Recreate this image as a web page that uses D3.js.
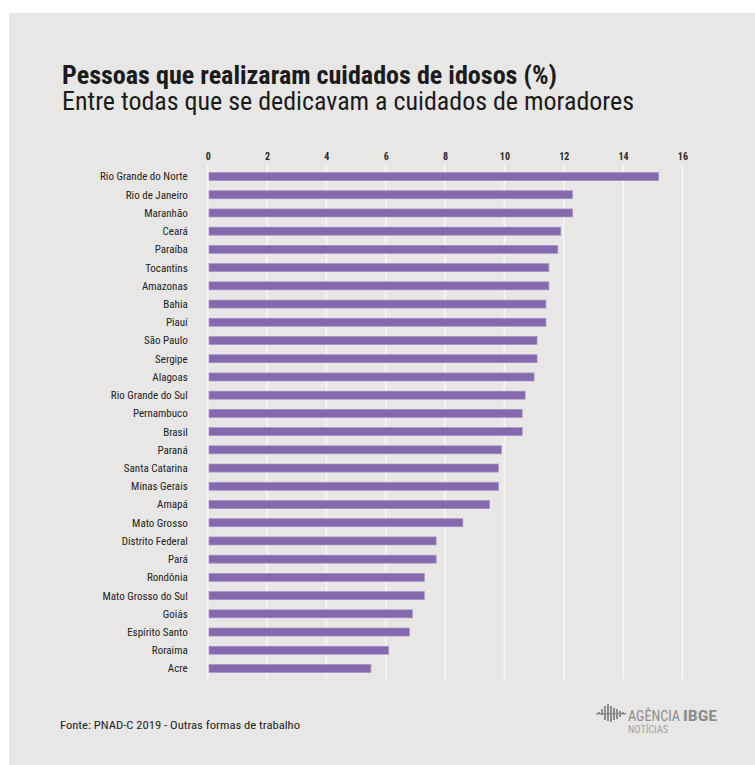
<!DOCTYPE html>
<html>
<head>
<meta charset="utf-8">
<script src="https://cdn.jsdelivr.net/npm/d3@7"></script>
<style>
  html, body { margin: 0; padding: 0; background: #ffffff; }
  svg { display: block; }
  .cond { font-family: "Liberation Sans Narrow", "Arial Narrow", "Roboto Condensed", "DejaVu Sans Condensed", "Liberation Sans", sans-serif; }
</style>
</head>
<body>
<svg id="chart" width="755" height="765"></svg>
<script>
const categories = ["Rio Grande do Norte","Rio de Janeiro","Maranhão","Ceará","Paraíba","Tocantins","Amazonas","Bahia","Piauí","São Paulo","Sergipe","Alagoas","Rio Grande do Sul","Pernambuco","Brasil","Paraná","Santa Catarina","Minas Gerais","Amapá","Mato Grosso","Distrito Federal","Pará","Rondônia","Mato Grosso do Sul","Goiás","Espírito Santo","Roraima","Acre"];
const values = [15.2,12.3,12.3,11.9,11.8,11.5,11.5,11.4,11.4,11.1,11.1,11.0,10.7,10.6,10.6,9.9,9.8,9.8,9.5,8.6,7.7,7.7,7.3,7.3,6.9,6.8,6.1,5.5];
const tickValues = [0,2,4,6,8,10,12,14,16];
const titleText = "Pessoas que realizaram cuidados de idosos (%)";
const subtitleText = "Entre todas que se dedicavam a cuidados de moradores";
const sourceText = "Fonte: PNAD-C 2019 - Outras formas de trabalho";

const svg = d3.select("#chart");
const FONT = '"Liberation Sans Narrow", "Arial Narrow", "Roboto Condensed", "DejaVu Sans Condensed", "Liberation Sans", sans-serif';

// panel
svg.append("rect").attr("x", 9).attr("y", 13).attr("width", 746).attr("height", 752).attr("fill", "#e8e7e5");

// titles
svg.append("text").attr("x", 62).attr("y", 83.5)
  .attr("font-family", FONT).attr("font-weight", "bold").attr("font-size", 25)
  .attr("fill", "#1b1b1b").attr("textLength", 495).attr("lengthAdjust", "spacingAndGlyphs")
  .text(titleText);
svg.append("text").attr("x", 62).attr("y", 110)
  .attr("font-family", FONT).attr("font-size", 25)
  .attr("fill", "#1b1b1b").attr("textLength", 572).attr("lengthAdjust", "spacingAndGlyphs")
  .text(subtitleText);

const x = d3.scaleLinear().domain([0, 16]).range([207.7, 682.4]);
const y = d3.scaleBand().domain(categories).range([162.3, 682.7]).padding(0.56);

// gridlines
svg.append("g").selectAll("line").data(tickValues).join("line")
  .attr("x1", d => x(d)).attr("x2", d => x(d))
  .attr("y1", 165).attr("y2", 679)
  .attr("stroke", "#f7f7f6").attr("stroke-width", 1.6);

// top axis labels
const axis = d3.axisTop(x).tickValues(tickValues).tickSize(0).tickPadding(0).tickFormat(d3.format("d"));
const ag = svg.append("g").attr("transform", "translate(0,160)").call(axis);
ag.select(".domain").remove();
ag.selectAll("text").attr("font-family", FONT).attr("font-size", 10).attr("font-weight", "bold")
  .attr("fill", "#2a2a2a").attr("dy", 0);

// bars
svg.append("g").selectAll("rect").data(values).join("rect")
  .attr("x", x(0) + 1.3)
  .attr("y", (d, i) => y(categories[i]))
  .attr("width", d => x(d) - x(0) - 1.3)
  .attr("height", y.bandwidth())
  .attr("fill", "#8569ae")
  .attr("stroke", "#a592c8").attr("stroke-width", 0.7);

// category labels
svg.append("g").selectAll("text").data(categories).join("text")
  .attr("x", 187.7)
  .attr("y", d => y(d) + y.bandwidth() / 2)
  .attr("dy", "0.36em")
  .attr("text-anchor", "end")
  .attr("font-family", FONT).attr("font-size", 11)
  .attr("fill", "#222")
  .text(d => d);

// source
svg.append("text").attr("x", 60).attr("y", 729)
  .attr("font-family", FONT).attr("font-size", 11).attr("fill", "#1e1e1e")
  .attr("textLength", 240).attr("lengthAdjust", "spacingAndGlyphs")
  .text(sourceText);

// logo
const logo = svg.append("g").attr("fill", "#8d8d8d");
const iconBars = [[598,712,2],[601,709,6],[604,706,14],[607,704,17],[610,706,16],[613,708,12],[616,709,10],[619,711,6],[622,712,2]];
iconBars.forEach(b => logo.append("rect").attr("x", b[0]).attr("y", b[1]).attr("width", 2).attr("height", b[2]));
logo.append("rect").attr("x", 596).attr("y", 713).attr("width", 30).attr("height", 1.5);
logo.append("text").attr("x", 628).attr("y", 721).attr("font-family", FONT).attr("font-size", 15)
  .attr("textLength", 52).attr("lengthAdjust", "spacingAndGlyphs").text("AGÊNCIA");
logo.append("text").attr("x", 683).attr("y", 721).attr("font-family", FONT).attr("font-size", 15).attr("font-weight", "bold")
  .attr("textLength", 34).attr("lengthAdjust", "spacingAndGlyphs").text("IBGE");
logo.append("text").attr("x", 628).attr("y", 733).attr("font-family", FONT).attr("font-size", 10).attr("fill", "#a3a3a3")
  .attr("textLength", 40).attr("lengthAdjust", "spacingAndGlyphs").text("NOTÍCIAS");
</script>
</body>
</html>
